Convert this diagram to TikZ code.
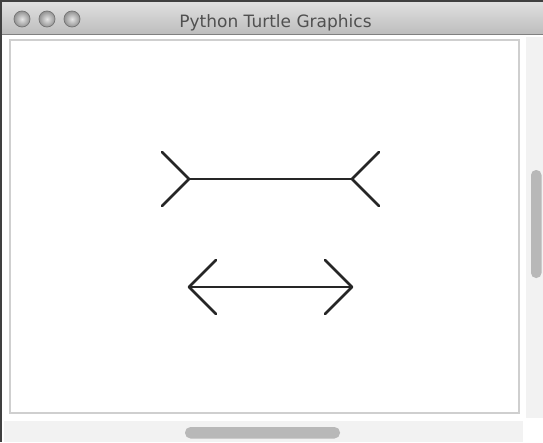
\documentclass[tikz,border=0pt]{standalone}
\usepackage{fontspec}
\setmainfont{DejaVu Sans}
\definecolor{ink}{HTML}{262626}
\definecolor{titletxt}{HTML}{505050}
\definecolor{bartop}{HTML}{E2E2E2}
\definecolor{barbot}{HTML}{BDBDBD}
\definecolor{track}{HTML}{F2F2F2}
\definecolor{thumb}{HTML}{B8B8B8}
\definecolor{frame}{HTML}{CFCFCF}
\tikzset{
  stroke/.style={draw=ink, line width=2.8pt, line cap=round, line join=round},
  light/.style={circle, minimum size=16pt, inner sep=0pt, draw=black!55, line width=0.7pt,
                inner color=white!80!gray, outer color=gray!85},
}
\begin{document}
\begin{tikzpicture}[x=1pt,y=-1pt]
\useasboundingbox (0,0) rectangle (543,442);
\fill[white] (0,0) rectangle (543,442);
% title bar
\shade[top color=bartop, bottom color=barbot] (0,0) rectangle (543,34);
\draw[black!75, line width=1.6pt] (0,0.8) -- (543,0.8);
\draw[black!50, line width=1pt] (0,34) -- (543,34);
\node[light] (l1) at (22,19) {};
\node[light] (l2) at (47,19) {};
\node[light] (l3) at (72,19) {};
\node[text=titletxt, font=\fontsize{17}{20}\selectfont, anchor=base] (title) at (275.5,27.5) {Python Turtle Graphics};
% left window edge
\draw[black!75, line width=2.4pt] (1.2,0) -- (1.2,442);
% canvas frame
\draw[frame, line width=2.2pt] (10,40) rectangle (519,413);
% vertical scrollbar
\fill[track] (526,37) rectangle (543,418);
\fill[thumb, rounded corners=5pt] (531,170) rectangle (541.5,278);
% horizontal scrollbar
\fill[track] (4,421) rectangle (523,442);
\fill[thumb, rounded corners=5.5pt] (185,427) rectangle (340,438.5);
% top figure: line with outward fins
\coordinate (a) at (189,179);
\coordinate (b) at (352,179);
\coordinate (a1) at (162,152);
\coordinate (a2) at (162,206);
\coordinate (b1) at (379,152);
\coordinate (b2) at (379,206);
\draw[stroke] (a) -- (b);
\draw[stroke] (a1) -- (a) -- (a2);
\draw[stroke] (b1) -- (b) -- (b2);
% bottom figure: double arrow
\coordinate (c) at (189,287);
\coordinate (d) at (352,287);
\coordinate (c1) at (216,260);
\coordinate (c2) at (216,314);
\coordinate (d1) at (325,260);
\coordinate (d2) at (325,314);
\draw[stroke] (c) -- (d);
\draw[stroke] (c1) -- (c) -- (c2);
\draw[stroke] (d1) -- (d) -- (d2);
\end{tikzpicture}
\end{document}
